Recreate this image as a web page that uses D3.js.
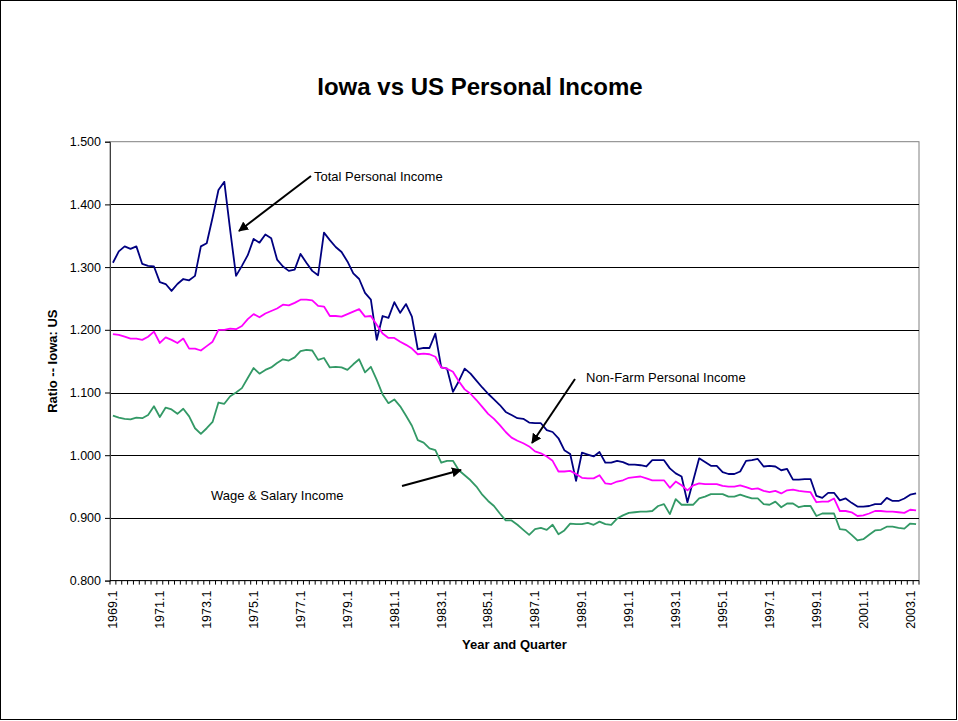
<!DOCTYPE html>
<html>
<head>
<meta charset="utf-8">
<script src="https://cdn.jsdelivr.net/npm/d3@7/dist/d3.min.js"></script>
<style>
  html, body { margin: 0; padding: 0; background: #fff; }
  svg { display: block; font-family: "Liberation Sans", Arial, sans-serif; }
</style>
</head>
<body>
<svg id="chart" width="958" height="721"></svg>
<script>
// ---------- DATA ----------
const years = d3.range(1969, 2004);
const quarters = [];
years.forEach(y => [1, 2, 3, 4].forEach(q => quarters.push(y + "." + q)));
quarters.length = 138; // 1969.1 .. 2003.2

const tickLabels = ["1969.1","1971.1","1973.1","1975.1","1977.1","1979.1","1981.1","1983.1",
  "1985.1","1987.1","1989.1","1991.1","1993.1","1995.1","1997.1","1999.1","2001.1","2003.1"];

const yTicks = [0.8, 0.9, 1.0, 1.1, 1.2, 1.3, 1.4, 1.5];

const totalIncome = [
  1.307,1.325,1.333,1.329,1.333,1.305,1.302,1.301,1.276,1.273,
  1.262,1.273,1.281,1.279,1.286,1.333,1.338,1.379,1.423,1.436,
  1.359,1.286,1.302,1.319,1.345,1.339,1.352,1.346,1.312,1.301,
  1.294,1.296,1.321,1.307,1.294,1.287,1.355,1.343,1.332,1.324,
  1.309,1.290,1.281,1.259,1.248,1.184,1.222,1.219,1.244,1.227,
  1.241,1.221,1.169,1.171,1.171,1.194,1.140,1.138,1.101,1.118,
  1.138,1.130,1.119,1.108,1.098,1.089,1.080,1.069,1.064,1.059,
  1.058,1.052,1.051,1.051,1.040,1.037,1.027,1.008,1.002,0.959,
  1.004,1.001,0.998,1.005,0.988,0.988,0.991,0.989,0.985,0.985,
  0.984,0.982,0.992,0.992,0.992,0.979,0.971,0.966,0.925,0.960,
  0.995,0.989,0.983,0.983,0.973,0.970,0.970,0.974,0.991,0.992,
  0.994,0.982,0.983,0.982,0.976,0.978,0.961,0.961,0.962,0.962,
  0.935,0.932,0.940,0.940,0.928,0.931,0.924,0.918,0.918,0.919,
  0.922,0.922,0.932,0.927,0.927,0.931,0.937,0.939
];

const nonFarmIncome = [
  1.193,1.192,1.189,1.186,1.186,1.184,1.189,1.197,1.179,1.188,
  1.184,1.179,1.186,1.170,1.170,1.167,1.174,1.181,1.200,1.200,
  1.202,1.201,1.206,1.217,1.225,1.220,1.226,1.230,1.234,1.240,
  1.239,1.243,1.248,1.248,1.247,1.238,1.237,1.222,1.222,1.221,
  1.225,1.229,1.233,1.221,1.222,1.208,1.194,1.187,1.187,1.181,
  1.176,1.170,1.161,1.162,1.161,1.157,1.140,1.138,1.133,1.118,
  1.105,1.098,1.088,1.077,1.066,1.058,1.048,1.037,1.028,1.023,
  1.019,1.014,1.006,1.003,0.998,0.991,0.974,0.974,0.975,0.970,
  0.964,0.963,0.963,0.968,0.955,0.954,0.958,0.960,0.964,0.965,
  0.966,0.963,0.960,0.960,0.960,0.948,0.958,0.952,0.944,0.952,
  0.955,0.954,0.954,0.954,0.951,0.950,0.950,0.952,0.949,0.946,
  0.947,0.943,0.941,0.943,0.939,0.944,0.945,0.943,0.942,0.941,
  0.925,0.926,0.926,0.931,0.911,0.911,0.909,0.903,0.904,0.907,
  0.911,0.911,0.910,0.910,0.909,0.908,0.913,0.912
];

const wageIncome = [
  1.063,1.060,1.058,1.057,1.060,1.059,1.064,1.078,1.061,1.076,
  1.073,1.066,1.074,1.062,1.043,1.034,1.043,1.053,1.084,1.082,
  1.094,1.100,1.107,1.123,1.139,1.130,1.136,1.140,1.147,1.153,
  1.151,1.156,1.166,1.168,1.167,1.152,1.155,1.140,1.141,1.140,
  1.136,1.145,1.153,1.132,1.141,1.120,1.097,1.083,1.089,1.078,
  1.063,1.047,1.024,1.020,1.011,1.008,0.988,0.991,0.991,0.976,
  0.968,0.960,0.950,0.937,0.927,0.919,0.907,0.896,0.896,0.889,
  0.881,0.873,0.882,0.884,0.881,0.889,0.874,0.880,0.891,0.890,
  0.890,0.892,0.889,0.894,0.890,0.889,0.899,0.904,0.908,0.909,
  0.910,0.910,0.911,0.919,0.922,0.906,0.930,0.921,0.921,0.921,
  0.931,0.934,0.938,0.938,0.938,0.934,0.934,0.937,0.934,0.931,
  0.931,0.922,0.921,0.926,0.917,0.923,0.923,0.917,0.919,0.919,
  0.903,0.907,0.907,0.907,0.882,0.881,0.873,0.864,0.866,0.873,
  0.880,0.881,0.886,0.886,0.884,0.883,0.891,0.890
];

const seriesNames = ["Total Personal Income", "Non-Farm Personal Income", "Wage & Salary Income"];
const seriesColors = ["#000080", "#FF00FF", "#339966"];

// ---------- CHART ----------
const svg = d3.select("#chart");
const W = 958, H = 721;
const plot = { left: 110, right: 919, top: 141.7, bottom: 580.6 };

svg.append("rect").attr("x", 0.5).attr("y", 0.5).attr("width", W - 2).attr("height", H - 2)
  .attr("fill", "#fff").attr("stroke", "#000").attr("stroke-width", 1);

const x = d3.scaleBand().domain(quarters).range([plot.left, plot.right]).padding(0);
const y = d3.scaleLinear().domain([0.8, 1.5]).range([plot.bottom, plot.top]);
const cx = q => x(q) + x.bandwidth() / 2;

// plot area border
svg.append("rect").attr("x", plot.left).attr("y", plot.top)
  .attr("width", plot.right - plot.left).attr("height", plot.bottom - plot.top)
  .attr("fill", "#fff").attr("stroke", "#808080").attr("stroke-width", 1);

// gridlines
svg.append("g").selectAll("line").data(yTicks.filter(v => v > 0.8 && v < 1.5)).join("line")
  .attr("x1", plot.left).attr("x2", plot.right)
  .attr("y1", d => Math.round(y(d)) + 0.5).attr("y2", d => Math.round(y(d)) + 0.5)
  .attr("stroke", "#000").attr("stroke-width", 1);

// Y axis
const yAxis = svg.append("g").attr("transform", `translate(${plot.left},0)`)
  .call(d3.axisLeft(y).tickValues(yTicks).tickFormat(d3.format(".3f")).tickSize(5).tickPadding(4));
yAxis.select(".domain").attr("stroke", "#404040");
yAxis.selectAll(".tick line").attr("stroke", "#000");
yAxis.selectAll(".tick text").attr("font-size", "12.5px").attr("fill", "#000")
  .style("font-family", "'Liberation Sans', Arial, sans-serif");

// X axis line + minor ticks at category boundaries
const xg = svg.append("g");
xg.append("line").attr("x1", plot.left).attr("x2", plot.right)
  .attr("y1", plot.bottom).attr("y2", plot.bottom).attr("stroke", "#000");
const boundaries = quarters.map(q => x(q)).concat([plot.right]);
xg.selectAll("line.minor").data(boundaries).join("line").attr("class", "minor")
  .attr("x1", d => d).attr("x2", d => d)
  .attr("y1", plot.bottom).attr("y2", plot.bottom + 4)
  .attr("stroke", "#000").attr("stroke-width", 1);
xg.selectAll("text.xl").data(tickLabels).join("text").attr("class", "xl")
  .attr("transform", d => `translate(${cx(d)},${plot.bottom + 10}) rotate(-90)`)
  .attr("text-anchor", "end").attr("dy", "0.35em")
  .attr("font-size", "12.5px").attr("fill", "#000").text(d => d);

// Series lines
const allSeries = [totalIncome, nonFarmIncome, wageIncome];
const line = d3.line().x((d, i) => cx(quarters[i])).y(d => y(d));
allSeries.forEach((vals, k) => {
  svg.append("path").datum(vals).attr("d", line)
    .attr("fill", "none").attr("stroke", seriesColors[k]).attr("stroke-width", 1.8)
    .attr("stroke-linejoin", "round").attr("aria-label", seriesNames[k]);
});

// Titles
svg.append("text").attr("x", 480).attr("y", 95).attr("text-anchor", "middle")
  .attr("font-size", "24px").attr("font-weight", "bold").attr("fill", "#000")
  .text("Iowa vs US Personal Income");
svg.append("text").attr("x", (plot.left + plot.right) / 2).attr("y", 649).attr("text-anchor", "middle")
  .attr("font-size", "13px").attr("font-weight", "bold").attr("fill", "#000")
  .text("Year and Quarter");
svg.append("text").attr("transform", `translate(57,${(plot.top + plot.bottom) / 2}) rotate(-90)`)
  .attr("text-anchor", "middle").attr("font-size", "13px").attr("font-weight", "bold").attr("fill", "#000")
  .text("Ratio -- Iowa: US");

// Annotations with arrows
const defs = svg.append("defs");
defs.append("marker").attr("id", "ah").attr("viewBox", "0 0 10 10")
  .attr("refX", 9).attr("refY", 5).attr("markerWidth", 5).attr("markerHeight", 5)
  .attr("orient", "auto").attr("markerUnits", "strokeWidth")
  .append("path").attr("d", "M0,0 L10,5 L0,10 Z").attr("fill", "#000");

const notes = [
  { text: seriesNames[0], tx: 314, ty: 180.5, ax1: 311, ay1: 176, ax2: 239, ay2: 231 },
  { text: seriesNames[1], tx: 586, ty: 381.5, ax1: 575, ay1: 379, ax2: 532, ay2: 443 },
  { text: seriesNames[2], tx: 211, ty: 499.5, ax1: 402, ay1: 486, ax2: 461, ay2: 470 }
];
notes.forEach(n => {
  svg.append("text").attr("x", n.tx).attr("y", n.ty).attr("font-size", "13px").attr("fill", "#000").text(n.text);
  svg.append("line").attr("x1", n.ax1).attr("y1", n.ay1).attr("x2", n.ax2).attr("y2", n.ay2)
    .attr("stroke", "#000").attr("stroke-width", 2).attr("marker-end", "url(#ah)");
});
</script>
</body>
</html>
